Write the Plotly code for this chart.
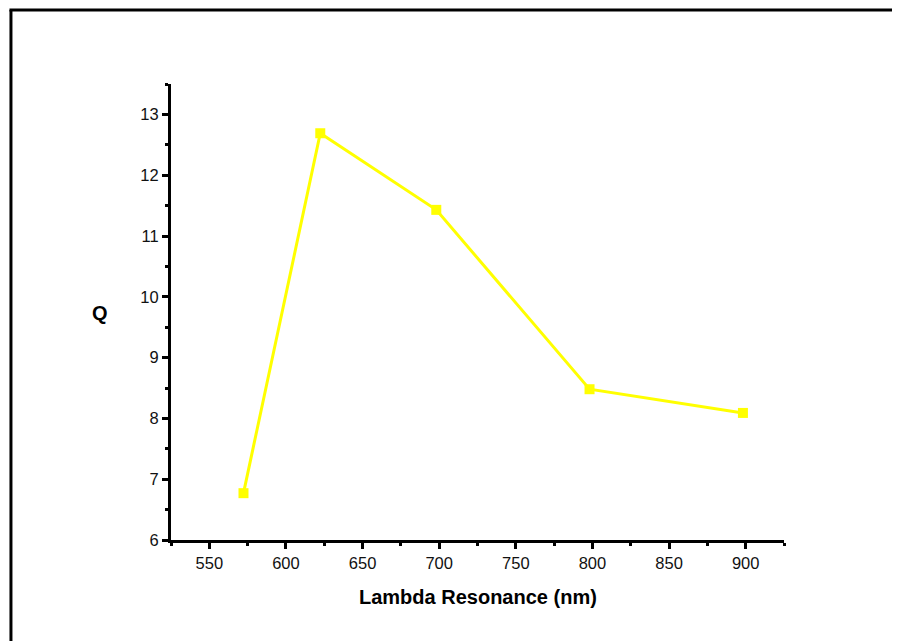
import plotly.graph_objects as go

wavelength = [572.3, 622.4, 698.1, 798.1, 898.2]
q_values = [6.77, 12.69, 11.43, 8.48, 8.09]

x_range = [525, 925]
y_range = [6, 13.5]
x_ticks = [550, 600, 650, 700, 750, 800, 850, 900]
y_ticks = [6, 7, 8, 9, 10, 11, 12, 13]

OFF = 8  # page body margin
W, H = 900 - OFF, 641 - OFF
# target positions in screenshot pixels, converted to figure pixels
L, R, T, B = 170.7 - OFF, 784.3 - OFF, 84 - OFF, 540 - OFF

FONT = "Liberation Sans, Arial"

fig = go.Figure()
fig.add_trace(go.Scatter(
    x=wavelength, y=q_values, mode="lines+markers",
    line=dict(color="#FFFF00", width=3),
    marker=dict(symbol="square", size=10, color="#FFFF00"),
    showlegend=False, cliponaxis=False,
))

axis_common = dict(
    showline=True, linecolor="black", linewidth=3,
    ticks="outside", ticklen=6, tickwidth=2.5, tickcolor="black",
    showgrid=False, zeroline=False,
    tickfont=dict(family=FONT, size=16.5, color="#111111"),
    minor=dict(ticks="outside", ticklen=3, tickwidth=2.5, tickcolor="black", showgrid=False),
)

fig.update_xaxes(range=x_range, tickvals=x_ticks, minor_dtick=25, minor_tick0=525, **axis_common)
fig.update_yaxes(range=y_range, tickvals=y_ticks, minor_dtick=0.5, minor_tick0=6, **axis_common)

pw, ph = R - L, B - T
def px(x): return (x - OFF - L) / pw
def py(y): return (B - (y - OFF)) / ph

fig.add_annotation(text="<b>Q</b>", xref="paper", yref="paper", x=px(99.3), y=py(313.3),
                   xanchor="center", yanchor="middle",
                   showarrow=False, font=dict(family=FONT, size=20, color="black"))
fig.add_annotation(text="<b>Lambda Resonance (nm)</b>", xref="paper", yref="paper",
                   x=px(477.5), y=py(596.7), xanchor="center", yanchor="middle", showarrow=False,
                   font=dict(family=FONT, size=20, color="black"))

# frame (left and top edges visible)
fig.add_shape(type="line", xref="paper", yref="paper", x0=px(10.5), x1=px(10.5), y0=py(660), y1=py(10),
              line=dict(color="black", width=3))
fig.add_shape(type="line", xref="paper", yref="paper", x0=px(9), x1=px(920), y0=py(10), y1=py(10),
              line=dict(color="black", width=3))

fig.update_layout(
    width=W, height=H,
    margin=dict(l=L, r=W - R, t=T, b=H - B),
    paper_bgcolor="white", plot_bgcolor="white",
)

fig.write_html("out.html")
